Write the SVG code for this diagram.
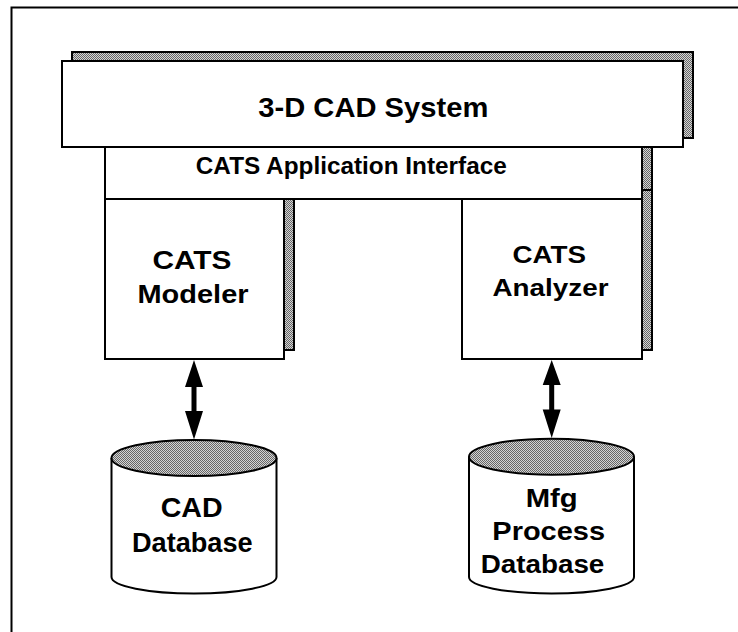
<svg xmlns="http://www.w3.org/2000/svg" width="738" height="632" viewBox="0 0 738 632">
<defs>
<pattern id="dots" patternUnits="userSpaceOnUse" width="2" height="2">
<rect width="2" height="2" fill="#d4d4d4"/>
<rect x="0" y="0" width="1" height="1" fill="#666"/>
<rect x="1" y="1" width="1" height="1" fill="#666"/>
</pattern>
</defs>
<style>
.box{fill:#fff;stroke:#000;stroke-width:2}
.shadow{fill:url(#dots);stroke:#000;stroke-width:2}
.lbl{font-family:"Liberation Sans",Arial,sans-serif;font-weight:bold;fill:#000;text-anchor:middle}
.arrow{fill:#000;stroke:none}
</style>
<rect width="738" height="632" fill="#fff"/>
<path d="M11.5,640 V7.5 H745" fill="none" stroke="#000" stroke-width="2"/>

<g id="shadows">
<rect class="shadow" x="72" y="52" width="621" height="86"/>
<rect class="shadow" x="115" y="138" width="537" height="52"/>
<rect class="shadow" x="114" y="190" width="180" height="160"/>
<rect class="shadow" x="472" y="190" width="180" height="160"/>
</g>

<g id="cad-system">
<rect class="box" x="62" y="61" width="621" height="86"/>
<text class="lbl" x="373.3" y="117" font-size="27" textLength="230" lengthAdjust="spacingAndGlyphs">3-D CAD System</text>
</g>

<g id="app-interface">
<rect class="box" x="105" y="147" width="537" height="52"/>
<text class="lbl" x="351.3" y="174" font-size="23.5" textLength="311" lengthAdjust="spacingAndGlyphs">CATS Application Interface</text>
</g>

<g id="modeler">
<rect class="box" x="105" y="199" width="179" height="160"/>
<text class="lbl" x="192" y="269" font-size="26" textLength="79" lengthAdjust="spacingAndGlyphs">CATS</text>
<text class="lbl" x="193" y="303" font-size="26" textLength="111" lengthAdjust="spacingAndGlyphs">Modeler</text>
</g>

<g id="analyzer">
<rect class="box" x="462" y="199" width="180" height="160"/>
<text class="lbl" x="549.2" y="262.5" font-size="24.5" textLength="73.5" lengthAdjust="spacingAndGlyphs">CATS</text>
<text class="lbl" x="550.5" y="295.5" font-size="24.5" textLength="116" lengthAdjust="spacingAndGlyphs">Analyzer</text>
</g>

<g id="cad-database">
<path class="box" d="M111.5,458 V577 A82.5,16.5 0 0 0 276.5,577 V458"/>
<ellipse class="shadow" cx="194" cy="458" rx="82.5" ry="18"/>
<text class="lbl" x="191.7" y="516.7" font-size="27" textLength="62" lengthAdjust="spacingAndGlyphs">CAD</text>
<text class="lbl" x="192.3" y="551.7" font-size="27" textLength="120.7" lengthAdjust="spacingAndGlyphs">Database</text>
</g>

<g id="mfg-database">
<path class="box" d="M469,456.7 V577 A82.5,16.5 0 0 0 634,577 V456.7"/>
<ellipse class="shadow" cx="551.5" cy="456.7" rx="82.5" ry="18"/>
<text class="lbl" x="551.7" y="506.7" font-size="26" textLength="52" lengthAdjust="spacingAndGlyphs">Mfg</text>
<text class="lbl" x="548.7" y="540" font-size="26" textLength="112.7" lengthAdjust="spacingAndGlyphs">Process</text>
<text class="lbl" x="542.5" y="573.3" font-size="26" textLength="123.7" lengthAdjust="spacingAndGlyphs">Database</text>
</g>

<g id="connectors">
<path class="arrow" d="M194,360 L203,387 L196.5,387 L196.5,411 L203,411 L194,439.5 L185,411 L191.5,411 L191.5,387 L185,387 Z"/>
<path class="arrow" d="M551.7,360 L560.7,385 L554.2,385 L554.2,409.5 L560.7,409.5 L551.7,438 L542.7,409.5 L549.2,409.5 L549.2,385 L542.7,385 Z"/>
</g>
</svg>
